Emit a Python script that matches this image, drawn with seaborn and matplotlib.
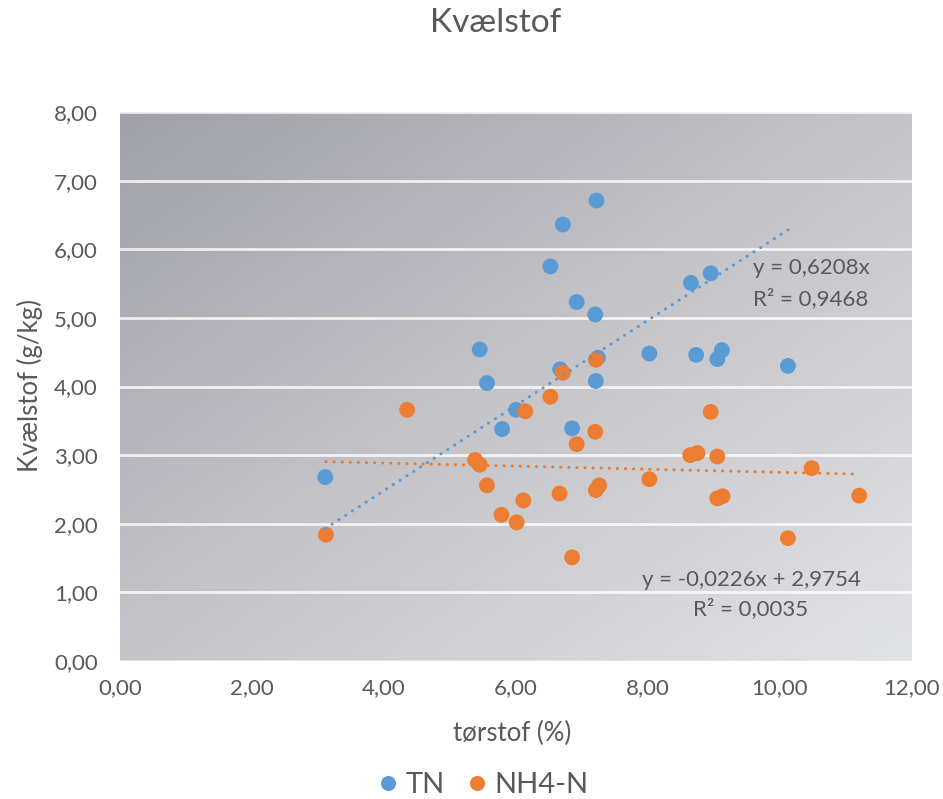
import numpy as np
import pandas as pd
import matplotlib
matplotlib.use("Agg")
import matplotlib.pyplot as plt
from matplotlib.colors import LinearSegmentedColormap
from matplotlib.ticker import FuncFormatter, MultipleLocator
import seaborn as sns

# ---- data ----
tn_x = [3.11, 5.45, 5.56, 5.79, 6.00, 6.52, 6.71, 7.22, 6.67, 6.92, 7.20,
        7.24, 7.21, 6.85, 8.02, 8.65, 8.95, 8.73, 9.05, 9.12, 10.12]
tn_y = [2.68, 4.54, 4.05, 3.38, 3.66, 5.75, 6.36, 6.71, 4.25, 5.23, 5.05,
        4.42, 4.08, 3.39, 4.48, 5.51, 5.65, 4.46, 4.40, 4.53, 4.30]

nh4_x = [3.12, 4.35, 5.38, 5.45, 5.56, 5.78, 6.01, 6.11, 6.14, 6.52, 6.66,
         6.71, 6.85, 6.92, 7.20, 7.21, 7.21, 7.26, 8.02, 8.64, 8.75, 8.95,
         9.05, 9.05, 9.13, 10.12, 10.48, 11.20]
nh4_y = [1.84, 3.66, 2.93, 2.86, 2.56, 2.13, 2.02, 2.34, 3.64, 3.85, 2.44,
         4.20, 1.51, 3.16, 3.34, 4.39, 2.49, 2.56, 2.65, 3.00, 3.03, 3.63,
         2.98, 2.37, 2.40, 1.79, 2.81, 2.41]

series_names = ["TN", "NH4-N"]
tn_slope = 0.6208
tn_r2 = 0.9468
nh4_slope = -0.0226
nh4_intercept = 2.9754
nh4_r2 = 0.0035

title = "Kvælstof"
xlabel = "tørstof (%)"
ylabel = "Kvælstof (g/kg)"

# ---- style ----
sns.set_style("white")
plt.rcParams["font.family"] = ["Lato", "DejaVu Sans"]
text_color = "#595959"
blue = "#5b9bd5"
orange = "#ed7d31"

df = pd.DataFrame({
    "x": tn_x + nh4_x,
    "y": tn_y + nh4_y,
    "serie": [series_names[0]] * len(tn_x) + [series_names[1]] * len(nh4_x),
})

fig = plt.figure(figsize=(9.43, 7.99), dpi=100)
ax = fig.add_axes([120 / 943, 1 - 661 / 799, 792 / 943, 549 / 799])

# gradient background
cmap = LinearSegmentedColormap.from_list("bg", ["#a0a0a8", "#c4c4c9", "#e2e3e5"])
gx, gy = np.meshgrid(np.linspace(0, 1, 300), np.linspace(0, 1, 300))
grad = (gx + gy) / 2
ax.imshow(grad, cmap=cmap, extent=[0, 1, 0, 1], transform=ax.transAxes,
          aspect="auto", zorder=0, origin="upper", interpolation="bilinear")

# gridlines
for yv in np.arange(1, 9, 1):
    ax.axhline(yv, color="white", lw=2.0, alpha=0.8, zorder=1)
ax.axhline(0, color="#e8e8e8", lw=2.0, zorder=1)

sns.scatterplot(data=df, x="x", y="y", hue="serie",
                palette={series_names[0]: blue, series_names[1]: orange},
                s=130, edgecolor="none", linewidth=0, ax=ax, zorder=3)

# trendlines
tx = np.array([min(tn_x), max(tn_x)])
ax.plot(tx, tn_slope * tx, color=blue, lw=2.2, linestyle=(0, (0.05, 2.6)),
        dash_capstyle="round", zorder=4)
nx = np.array([min(nh4_x), max(nh4_x)])
ax.plot(nx, nh4_slope * nx + nh4_intercept, color=orange, lw=2.2,
        linestyle=(0, (0.05, 2.6)), dash_capstyle="round", zorder=4)

def fmt(v):
    return f"{v:.4f}".replace(".", ",")

ann = dict(ha="center", va="center", fontsize=16, color=text_color, zorder=5)
ax.text(10.47, 5.72, f"y = {fmt(tn_slope)}x", **ann)
ax.text(10.47, 5.28, f"R² = {fmt(tn_r2)}", **ann)
ax.text(9.56, 1.18, f"y = {fmt(nh4_slope)}x + {fmt(nh4_intercept)}", **ann)
ax.text(9.56, 0.76, f"R² = {fmt(nh4_r2)}", **ann)

ax.set_xlim(0, 12)
ax.set_ylim(0, 8)
ax.xaxis.set_major_locator(MultipleLocator(2))
ax.yaxis.set_major_locator(MultipleLocator(1))
comma = FuncFormatter(lambda v, p: f"{v:.2f}".replace(".", ","))
ax.xaxis.set_major_formatter(comma)
ax.yaxis.set_major_formatter(comma)
ax.tick_params(axis="both", length=0, labelsize=16, colors=text_color)
ax.tick_params(axis="y", pad=16)
ax.tick_params(axis="x", pad=12)
for sp in ax.spines.values():
    sp.set_visible(False)

ax.set_xlabel(xlabel, fontsize=18.5, color=text_color, va="center")
ax.set_ylabel(ylabel, fontsize=18.5, color=text_color, va="center")
ax.xaxis.set_label_coords((512 - 120) / 792, (661 - 733) / 549)
ax.yaxis.set_label_coords((30 - 120) / 792, (661 - 385) / 549)
fig.text(496 / 943, 1 - 23 / 799, title, ha="center", va="center",
         fontsize=24, color=text_color)

sns.move_legend(ax, "center", bbox_to_anchor=(484 / 943, 1 - 785 / 799),
                bbox_transform=fig.transFigure, ncol=2,
                frameon=False, title=None, fontsize=21, handletextpad=0.3,
                handlelength=0.6, columnspacing=0.8, markerscale=0.95)
for t in ax.get_legend().get_texts():
    t.set_color(text_color)

fig.savefig("out.png", dpi=100)
